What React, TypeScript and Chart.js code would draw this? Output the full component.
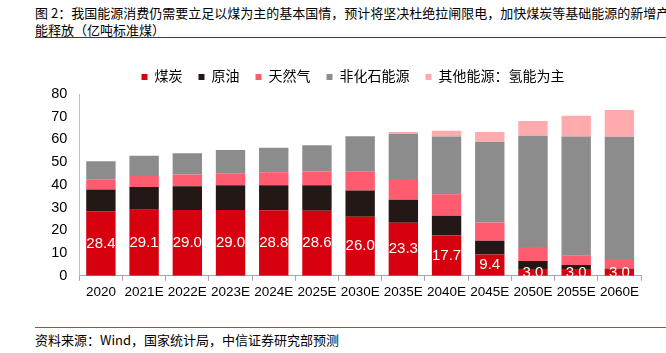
import React, { useEffect, useRef } from "react";
import { Chart, registerables } from "chart.js";

Chart.register(...registerables);

const categories = ["2020", "2021E", "2022E", "2023E", "2024E", "2025E", "2030E", "2035E", "2040E", "2045E", "2050E", "2055E", "2060E"];
const coal = [28.4, 29.1, 29.0, 29.0, 28.8, 28.6, 26.0, 23.3, 17.7, 9.4, 3.0, 3.0, 3.0];
const oil = [9.6, 10.0, 10.4, 10.9, 11.1, 11.3, 11.5, 10.2, 8.7, 6.0, 3.5, 1.8, 0.1];
const gas = [4.3, 4.8, 5.2, 5.2, 5.7, 6.0, 8.3, 9.1, 9.5, 8.1, 6.2, 4.2, 4.3];
const nonFossil = [8.1, 8.9, 9.3, 10.3, 10.7, 11.5, 15.6, 19.9, 25.4, 35.5, 48.9, 52.3, 53.8];
const other = [0, 0, 0, 0, 0, 0, 0, 0.8, 2.5, 4.3, 6.5, 9.1, 11.8];
const seriesNames = ["煤炭", "原油", "天然气", "非化石能源", "其他能源：氢能为主"];
const yTicks = [0, 10, 20, 30, 40, 50, 60, 70, 80];

const titleLine1 = "图 2：我国能源消费仍需要立足以煤为主的基本国情，预计将坚决杜绝拉闸限电，加快煤炭等基础能源的新增产";
const titleLine2 = "能释放（亿吨标准煤）";
const footerText = "资料来源：Wind，国家统计局，中信证券研究部预测";

const colors = ["#D7000F", "#231815", "#FF5C70", "#8C8C8C", "#FFABAE"];
const FONT = "'Liberation Sans', Arial, 'Noto Sans CJK SC', sans-serif";

const coalLabels = {
  id: "coalLabels",
  afterDatasetsDraw(chart: any) {
    const meta = chart.getDatasetMeta(0);
    const ctx = chart.ctx;
    const area = chart.chartArea;
    ctx.save();
    ctx.beginPath();
    ctx.rect(area.left, area.top, area.right - area.left, area.bottom - area.top);
    ctx.clip();
    ctx.fillStyle = "#ffffff";
    ctx.font = `15px ${FONT}`;
    ctx.textAlign = "center";
    ctx.textBaseline = "middle";
    meta.data.forEach((el: any, i: number) => {
      const v = coal[i];
      ctx.fillText(v.toFixed(1), el.x, (el.y + el.base) / 2);
    });
    ctx.restore();
  },
};

export default function App() {
  const ref = useRef<HTMLCanvasElement | null>(null);
  useEffect(() => {
    if (!ref.current) return;
    const data = [coal, oil, gas, nonFossil, other];
    const chart = new Chart(ref.current, {
      type: "bar",
      data: {
        labels: categories,
        datasets: data.map((d, i) => ({
          label: seriesNames[i],
          data: d,
          backgroundColor: colors[i],
          borderWidth: 0,
          categoryPercentage: 1,
          barPercentage: 0.68,
        })),
      },
      options: {
        animation: false,
        responsive: false,
        maintainAspectRatio: false,
        layout: { padding: { left: 40, right: 0, top: 0, bottom: 0 } },
        plugins: {
          tooltip: { enabled: false },
          legend: {
            position: "top",
            labels: {
              boxWidth: 6,
              boxHeight: 6,
              padding: 16,
              color: "#000",
              font: { size: 14, family: FONT },
            },
          },
        },
        scales: {
          x: {
            stacked: true,
            grid: { display: true, drawOnChartArea: false, drawTicks: true, tickLength: 5, color: "#a6a6a6", offset: true },
            border: { display: true, color: "#a6a6a6" },
            ticks: { color: "#000", font: { size: 13.5, family: FONT }, padding: 3, maxRotation: 0, autoSkip: false },
          },
          y: {
            stacked: true,
            min: 0,
            max: 80,
            afterBuildTicks: (s: any) => {
              s.ticks = yTicks.map((v) => ({ value: v }));
            },
            grid: { display: false, drawTicks: false },
            border: { display: true, color: "#bfbfbf" },
            ticks: { color: "#000", font: { size: 14.5, family: FONT }, padding: 12 },
            afterFit: (s: any) => {
              s.width = 39.3;
            },
          },
          yr: {
            position: "right",
            type: "linear",
            display: true,
            grid: { display: false, drawTicks: false },
            border: { display: false },
            ticks: { display: false },
            afterFit: (s: any) => {
              s.width = 25;
            },
          },
        },
      },
      plugins: [coalLabels],
    });
    return () => chart.destroy();
  }, []);

  return (
    <div style={{ position: "absolute", left: 0, top: 0, width: 666, height: 353, background: "#fff", overflow: "hidden" }}>
      <div style={{ position: "absolute", left: 35, top: 4, width: 640, font: "13px 'Noto Sans CJK SC', sans-serif", lineHeight: "17px", color: "#000", whiteSpace: "nowrap" }}>
        {titleLine1}
      </div>
      <div style={{ position: "absolute", left: 35, top: 21, font: "13px 'Noto Sans CJK SC', sans-serif", lineHeight: "17px", color: "#000", whiteSpace: "nowrap" }}>
        {titleLine2}
      </div>
      <div style={{ position: "absolute", left: 35, top: 37, width: 631, height: 1, background: "#C00000" }} />
      <canvas ref={ref} width={666} height={249} style={{ position: "absolute", left: 0, top: 54, width: 666, height: 249 }} />
      <div style={{ position: "absolute", left: 35, top: 327, width: 631, height: 1, background: "#E03030" }} />
      <div style={{ position: "absolute", left: 35, top: 331, font: "13px 'Noto Sans CJK SC', sans-serif", lineHeight: "17px", color: "#000", whiteSpace: "nowrap" }}>
        {footerText}
      </div>
    </div>
  );
}
